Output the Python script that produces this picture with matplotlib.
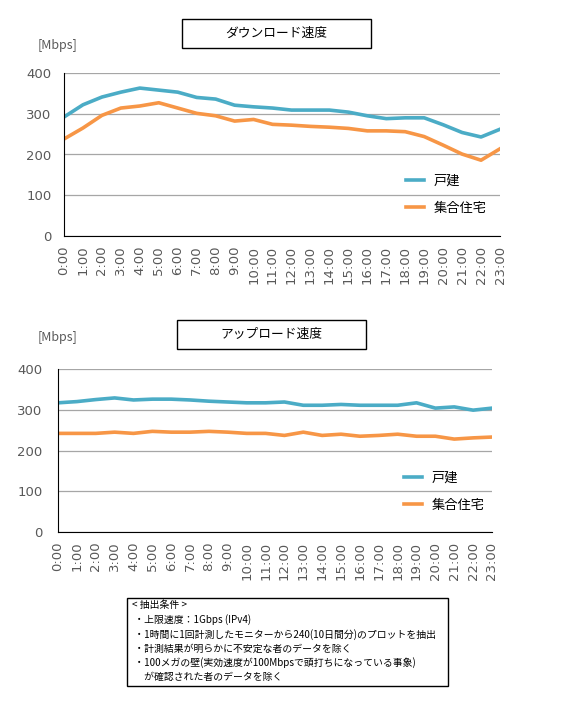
"""
ダウンロード速度 / アップロード速度 の時間帯別推移 (戸建 vs 集合住宅)
"""
import matplotlib
matplotlib.use("Agg")
import matplotlib.pyplot as plt
from matplotlib.patches import Rectangle

plt.rcParams['font.family'] = ['Noto Sans CJK JP', 'DejaVu Sans']

# 時間帯
horas = [f"{h}:00" for h in range(24)]

# ダウンロード速度 [Mbps]
down_kodate = [292, 322, 341, 353, 363, 358, 353, 340, 336, 321, 317, 314,
               309, 309, 309, 304, 295, 288, 290, 290, 273, 254, 243, 262]
down_shugo = [238, 265, 296, 314, 319, 327, 314, 301, 295, 282, 286, 274,
              272, 269, 267, 264, 258, 258, 256, 244, 223, 201, 186, 214]

# アップロード速度 [Mbps]
up_kodate = [317, 320, 325, 329, 324, 326, 326, 324, 321, 319, 317, 317,
             319, 311, 311, 313, 311, 311, 311, 317, 304, 307, 299, 304]
up_shugo = [242, 242, 242, 245, 242, 247, 245, 245, 247, 245, 242, 242,
            237, 245, 237, 240, 235, 237, 240, 235, 235, 228, 231, 233]

series_names = ["戸建", "集合住宅"]
colores = ["#4BACC6", "#F79646"]
gris = "#595959"

W, H = 564, 720
fig = plt.figure(figsize=(W / 100, H / 100), dpi=100)


def px_axes(x0, x1, ytop, ybot):
    return fig.add_axes([x0 / W, 1 - ybot / H, (x1 - x0) / W, (ybot - ytop) / H])


def caja(x0, y0, x1, y1, lw=1.0):
    fig.patches.append(Rectangle((x0 / W, 1 - y1 / H), (x1 - x0) / W, (y1 - y0) / H,
                                 transform=fig.transFigure, fill=False,
                                 edgecolor="black", linewidth=lw))


def grafico(ax, kodate, shugo, titulo, caja_px, mbps_y, leg_anchor, ypad):
    x = range(len(horas))
    ax.plot(x, kodate, color=colores[0], lw=2.6, label=series_names[0])
    ax.plot(x, shugo, color=colores[1], lw=2.6, label=series_names[1])
    ax.set_xlim(0, len(horas) - 1)
    ax.set_ylim(0, 400)
    ax.set_yticks([0, 100, 200, 300, 400])
    ax.set_xticks(list(x))
    ax.set_xticklabels(horas, rotation=90, family="DejaVu Sans")
    for t in ax.get_yticklabels():
        t.set_family("DejaVu Sans")
    ax.tick_params(axis="x", length=0, labelsize=9.5, labelcolor=gris, pad=7)
    ax.tick_params(axis="y", length=0, labelsize=9.5, labelcolor=gris, pad=ypad)
    ax.grid(axis='y', color="#A6A6A6", lw=0.9)
    ax.set_axisbelow(True)
    for s in ["top", "right"]:
        ax.spines[s].set_visible(False)
    ax.spines["left"].set_color("black")
    ax.spines["bottom"].set_color("black")

    x0, y0, x1, y1 = caja_px
    caja(x0, y0, x1, y1)
    fig.text((x0 + x1) / 2 / W, 1 - (y0 + y1) / 2 / H, titulo,
             ha="center", va="center", fontsize=9.2)
    fig.text(38 / W, 1 - mbps_y / H, "[Mbps]", ha="left", va="center",
             fontsize=9, color=gris)

    ax.legend(loc="upper left", bbox_to_anchor=(leg_anchor[0] / W, 1 - leg_anchor[1] / H),
              bbox_transform=fig.transFigure, frameon=False, fontsize=9.5,
              handlelength=1.4, handletextpad=0.7, labelspacing=1.05,
              borderpad=0, borderaxespad=0)


ax1 = px_axes(64, 500, 73, 236)
grafico(ax1, down_kodate, down_shugo, "ダウンロード速度", (182, 19, 371, 48), 45,
        (406, 175), 9)

ax2 = px_axes(58, 492, 369, 532)
grafico(ax2, up_kodate, up_shugo, "アップロード速度", (177, 320, 366, 349), 337,
        (404, 472), 11)

# 抽出条件
caja(127, 598, 448, 686)
nota = ("< 抽出条件 >\n"
        " ・上限速度：1Gbps (IPv4)\n"
        " ・1時間に1回計測したモニターから240(10日間分)のプロットを抽出\n"
        " ・計測結果が明らかに不安定な者のデータを除く\n"
        " ・100メガの壁(実効速度が100Mbpsで頭打ちになっている事象)\n"
        " 　が確認された者のデータを除く")
fig.text(132 / W, 1 - 600 / H, nota, ha="left", va="top", fontsize=7.1,
         linespacing=1.45)

fig.savefig("out.png", dpi=100)
